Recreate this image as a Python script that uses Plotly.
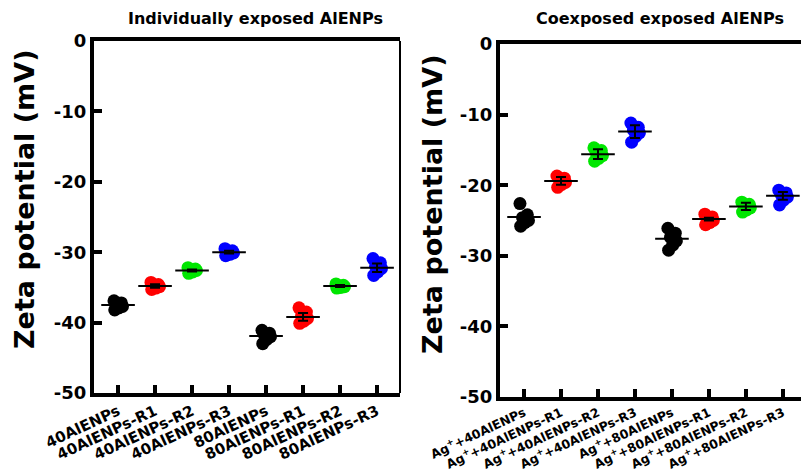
import plotly.graph_objects as go

W, H = 801, 475

# ---------------- data ----------------
left_categories = ["40AlENPs", "40AlENPs-R1", "40AlENPs-R2", "40AlENPs-R3",
                   "80AlENPs", "80AlENPs-R1", "80AlENPs-R2", "80AlENPs-R3"]
right_categories = ["Ag<sup>+</sup>+40AlENPs", "Ag<sup>+</sup>+40AlENPs-R1",
                    "Ag<sup>+</sup>+40AlENPs-R2", "Ag<sup>+</sup>+40AlENPs-R3",
                    "Ag<sup>+</sup>+80AlENPs", "Ag<sup>+</sup>+80AlENPs-R1",
                    "Ag<sup>+</sup>+80AlENPs-R2", "Ag<sup>+</sup>+80AlENPs-R3"]
group_colors = ["#000000", "#ff0000", "#00e600", "#0000ff",
                "#000000", "#ff0000", "#00e600", "#0000ff"]

# individual measurements (mV)
left_points = [
    [-36.9, -37.2, -37.5, -37.7, -37.9, -38.2],
    [-34.3, -34.6, -34.8, -34.9, -35.1, -35.3],
    [-32.2, -32.4, -32.6, -32.6, -32.8, -33.0],
    [-29.5, -29.8, -30.0, -30.1, -30.3, -30.5],
    [-41.1, -41.5, -41.8, -42.0, -42.4, -43.0],
    [-37.9, -38.5, -39.0, -39.4, -39.8, -40.1],
    [-34.5, -34.7, -34.8, -34.9, -35.0, -35.1],
    [-30.9, -31.5, -32.0, -32.3, -32.8, -33.3],
]
right_points = [
    [-22.6, -24.2, -24.6, -25.0, -25.3, -25.8],
    [-18.7, -19.0, -19.3, -19.6, -19.9, -20.3],
    [-14.7, -15.1, -15.5, -15.8, -16.2, -16.6],
    [-11.2, -11.8, -12.2, -12.6, -13.1, -13.9],
    [-26.1, -26.8, -27.4, -27.9, -28.5, -29.2],
    [-24.1, -24.5, -24.8, -25.0, -25.3, -25.6],
    [-22.4, -22.7, -23.0, -23.2, -23.5, -23.8],
    [-20.7, -21.1, -21.4, -21.7, -22.1, -22.8],
]
left_means = [-37.5, -34.8, -32.6, -30.0, -41.9, -39.2, -34.8, -32.2]
left_sem = [0.25, 0.25, 0.15, 0.2, 0.25, 0.55, 0.15, 0.6]
right_means = [-24.5, -19.4, -15.6, -12.4, -27.6, -24.8, -23.0, -21.5]
right_sem = [0.5, 0.55, 0.7, 0.9, 0.4, 0.2, 0.5, 0.55]

y_ticks = [0, -10, -20, -30, -40, -50]
y_tick_labels = ["0", "-10", "-20", "-30", "-40", "-50"]

# horizontal scatter pattern for the dots (category units)
jitter = [-0.11, 0.09, -0.04, 0.12, 0.02, -0.09]

FONT = "DejaVu Sans"

fig = go.Figure()


def add_panel(points, means, sems, xa, ya):
    for i, vals in enumerate(points):
        fig.add_trace(go.Scatter(
            x=[i + jitter[k % len(jitter)] for k in range(len(vals))], y=vals,
            mode="markers", xaxis=xa, yaxis=ya, showlegend=False,
            marker=dict(size=13, color=group_colors[i], line=dict(width=0)),
            hoverinfo="y"))
    fig.add_trace(go.Scatter(
        x=list(range(len(means))), y=means, mode="markers",
        xaxis=xa, yaxis=ya, showlegend=False,
        marker=dict(symbol="line-ew", size=24, color="black",
                    line=dict(width=2, color="black")),
        error_y=dict(type="data", array=sems, visible=True,
                     color="black", thickness=2, width=5)))


add_panel(left_points, left_means, left_sem, "x", "y")
add_panel(right_points, right_means, right_sem, "x2", "y2")


def px_x(p):
    return p / W


def px_y(p):
    return 1 - p / H


axis_common = dict(showline=True, linewidth=4, linecolor="black",
                   ticks="inside", ticklen=8, tickwidth=4, tickcolor="black",
                   showgrid=False, zeroline=False, automargin=False)

xfont_l = dict(family=FONT, size=15, weight="bold", color="black")
xfont_r = dict(family=FONT, size=12.5, weight="bold", color="black")
yfont = dict(family=FONT, size=18, weight="bold", color="black")

fig.update_layout(
    width=W, height=H, margin=dict(l=0, r=0, t=0, b=0, autoexpand=False),
    paper_bgcolor="white", plot_bgcolor="white",
    font=dict(family=FONT, color="black"),
    xaxis=dict(domain=[px_x(94), px_x(400)], range=[-0.65, 7.62],
               tickvals=list(range(8)), ticktext=left_categories,
               tickangle=-25, mirror=True, anchor="y", tickfont=xfont_l,
               **axis_common),
    yaxis=dict(domain=[px_y(393), px_y(41)], range=[-50, 0],
               tickvals=y_ticks, ticktext=y_tick_labels, anchor="x",
               tickfont=yfont, **axis_common),
    xaxis2=dict(domain=[px_x(500), 1.0], range=[-0.65, 7.49],
                tickvals=list(range(8)), ticktext=right_categories,
                tickangle=-25, mirror=True, anchor="y2", tickfont=xfont_r,
                **axis_common),
    yaxis2=dict(domain=[px_y(397), px_y(44)], range=[-50, 0],
                tickvals=y_ticks, ticktext=y_tick_labels, anchor="x2",
                tickfont=yfont, **axis_common),
)

# thin right border of left panel
fig.add_shape(type="line", xref="x domain", yref="y domain",
              x0=1, x1=1, y0=0, y1=1, line=dict(color="black", width=2))

ann_font = dict(family=FONT, size=16, color="black", weight="bold")
fig.add_annotation(text="Individually exposed AlENPs", x=px_x(255), y=px_y(18),
                   xref="paper", yref="paper", showarrow=False, font=ann_font,
                   xanchor="center", yanchor="middle")
fig.add_annotation(text="Coexposed exposed AlENPs", x=px_x(660), y=px_y(18),
                   xref="paper", yref="paper", showarrow=False, font=ann_font,
                   xanchor="center", yanchor="middle")

yt_font = dict(family=FONT, size=27, color="black", weight="bold")
fig.add_annotation(text="Zeta potential (mV)", x=px_x(24), y=px_y(200),
                   xref="paper", yref="paper", showarrow=False, font=yt_font,
                   textangle=-90, xanchor="center", yanchor="middle")
fig.add_annotation(text="Zeta potential (mV)", x=px_x(432), y=px_y(205),
                   xref="paper", yref="paper", showarrow=False, font=yt_font,
                   textangle=-90, xanchor="center", yanchor="middle")

fig.write_html("out.html")
